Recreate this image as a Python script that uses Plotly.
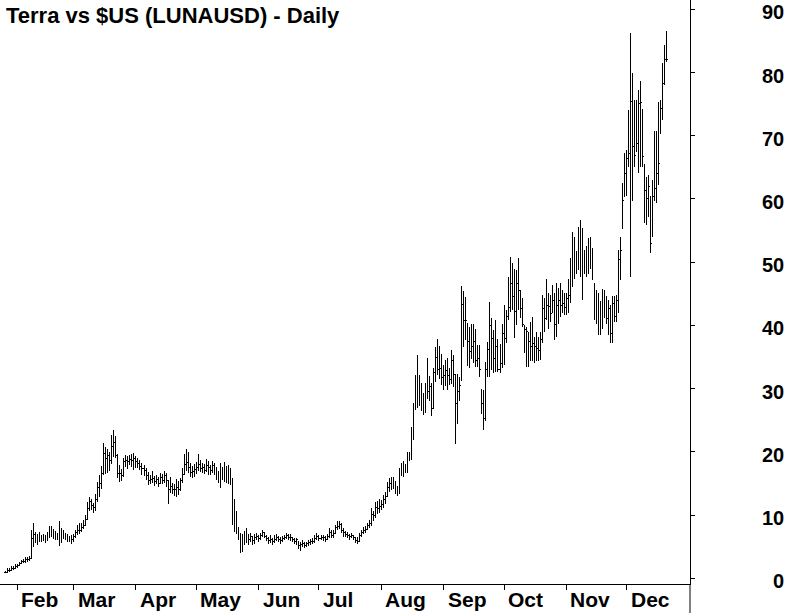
import pandas as pd
import plotly.graph_objects as go

# ---------------- data ----------------
start_date = "2021-01-26"
first_open = 0.85

jan_close = [0.9, 1.3, 1.2, 1.5, 1.6, 1.8]
jan_high = [1.2, 1.6, 1.6, 1.9, 1.9, 2.2]
jan_low = [0.8, 0.9, 1.0, 1.1, 1.3, 1.4]

feb_close = [2.0, 2.4, 2.6, 2.7, 2.9, 3.0, 3.2, 6.3, 7.0, 6.8, 6.0, 6.5, 6.4, 6.6,
             6.1, 6.8, 7.5, 7.2, 6.6, 6.9, 6.8, 7.4, 6.5, 6.9, 6.5, 6.3, 6.4, 6.1]
feb_high = [2.3, 2.6, 2.9, 3.1, 3.3, 3.4, 3.5, 7.6, 8.8, 7.4, 7.0, 7.3, 6.9, 7.0,
            6.8, 7.4, 8.2, 8.2, 7.8, 7.5, 7.2, 9.0, 7.9, 7.6, 7.1, 7.0, 6.7, 6.8]
feb_low = [1.6, 1.9, 2.2, 2.4, 2.5, 2.6, 2.8, 3.0, 5.0, 5.6, 5.3, 5.7, 5.8, 5.9,
           5.6, 5.9, 6.4, 6.5, 6.2, 6.0, 6.1, 5.1, 5.6, 6.2, 6.0, 5.8, 5.7, 5.5]

mar_close = [6.6, 7.2, 7.5, 7.6, 8.0, 8.4, 9.3, 11.1, 12.2, 11.5, 11.2, 12.4, 14.3, 15.0,
             16.5, 19.7, 18.9, 19.4, 18.6, 20.8, 21.5, 19.4, 16.5, 16.6, 16.2, 18.4, 18.7, 18.4,
             18.8, 18.6, 18.9]
mar_high = [7.0, 7.6, 8.5, 8.7, 8.8, 9.2, 10.0, 12.0, 12.8, 12.6, 11.9, 13.3, 15.2, 16.4,
            17.8, 21.4, 20.8, 20.4, 20.0, 22.6, 23.5, 22.5, 19.6, 18.0, 17.3, 19.1, 19.5, 19.3,
            19.5, 19.6, 19.8]
mar_low = [5.8, 6.3, 6.9, 7.0, 7.3, 7.8, 8.2, 9.2, 10.6, 10.8, 10.3, 10.7, 12.0, 12.9,
           14.2, 16.3, 16.5, 16.7, 17.0, 18.1, 19.2, 19.0, 15.8, 15.2, 15.4, 16.0, 17.6, 17.3,
           17.9, 17.6, 17.2]

apr_close = [18.5, 18.2, 17.7, 17.3, 17.0, 16.2, 15.4, 15.7, 15.8, 15.3, 15.6, 15.0, 16.0, 15.4,
             16.2, 15.5, 14.1, 14.5, 14.1, 14.0, 14.3, 14.0, 15.4, 15.7, 18.0, 18.3, 17.5, 16.8,
             16.9, 17.2]
apr_high = [19.4, 19.1, 18.7, 18.2, 17.9, 17.4, 16.8, 16.4, 16.9, 16.2, 16.4, 16.0, 16.7, 16.5,
            17.0, 16.6, 15.6, 16.1, 15.1, 14.9, 15.7, 15.4, 15.9, 17.5, 19.6, 20.4, 20.0, 18.3,
            17.8, 18.1]
apr_low = [17.5, 17.4, 17.1, 16.3, 16.2, 15.5, 14.8, 14.9, 15.0, 14.6, 14.9, 14.5, 14.9, 14.9,
           15.1, 14.5, 11.8, 13.5, 13.3, 13.0, 12.9, 13.2, 13.8, 15.0, 16.4, 17.0, 16.6, 16.0,
           15.8, 16.1]

may_close = [17.6, 18.0, 17.3, 17.6, 17.1, 17.9, 17.5, 17.0, 17.8, 17.2, 16.5, 16.2, 17.1, 16.6,
             17.0, 16.4, 16.8, 15.6, 9.4, 10.3, 8.0, 7.0, 4.6, 6.0, 6.5, 6.6, 6.2, 6.6,
             6.0, 6.4, 6.6]
may_high = [18.4, 19.6, 18.7, 18.3, 18.1, 18.8, 18.6, 18.0, 18.6, 18.3, 17.6, 17.0, 18.2, 17.6,
            18.4, 17.8, 18.0, 17.5, 15.8, 12.5, 10.6, 8.0, 7.1, 7.0, 7.5, 8.0, 7.0, 7.2,
            6.7, 7.0, 7.2]
may_low = [16.5, 17.0, 16.8, 16.6, 16.5, 16.8, 16.4, 16.3, 16.6, 16.4, 15.6, 15.0, 14.3, 15.6,
           15.2, 15.0, 14.9, 14.8, 8.5, 7.3, 7.0, 6.1, 4.0, 4.1, 5.2, 5.6, 5.3, 5.8,
           5.3, 5.5, 6.0]

jun_close = [6.3, 6.7, 7.3, 6.6, 6.3, 6.0, 6.2, 5.9, 6.2, 6.5, 6.1, 6.0, 6.3, 6.4,
             6.7, 6.4, 6.5, 6.1, 5.9, 6.1, 5.2, 5.3, 5.5, 5.2, 5.5, 5.6, 5.8, 5.9, 6.3, 6.6]
jun_high = [6.9, 7.2, 7.7, 7.4, 6.8, 6.5, 6.9, 6.3, 6.8, 7.0, 6.7, 6.5, 6.7, 6.9,
            7.2, 7.0, 7.0, 6.6, 6.3, 6.4, 5.9, 5.8, 6.0, 5.8, 5.8, 6.0, 6.2, 6.3, 6.9, 7.1]
jun_low = [5.8, 6.0, 6.5, 6.3, 5.9, 5.4, 5.6, 5.2, 5.6, 5.9, 5.7, 5.4, 5.7, 6.0,
           6.2, 6.0, 5.9, 5.7, 5.5, 5.3, 4.6, 4.3, 4.9, 4.8, 5.0, 5.1, 5.3, 5.5, 5.6, 6.0]

jul_close = [6.3, 6.5, 6.4, 6.2, 6.6, 7.2, 6.8, 7.1, 8.1, 8.2, 8.5, 7.6, 7.3, 6.9,
             6.8, 6.6, 6.7, 6.5, 6.0, 5.9, 6.7, 7.2, 7.5, 7.8, 8.3, 8.6, 10.1, 9.9,
             11.2, 11.0, 11.4]
jul_high = [6.9, 6.9, 6.8, 6.7, 7.0, 7.9, 7.6, 7.6, 8.5, 9.0, 9.1, 8.7, 8.0, 7.5,
            7.3, 7.0, 7.1, 6.9, 6.6, 6.5, 7.1, 7.7, 8.1, 8.3, 8.8, 9.3, 11.1, 10.6,
            12.1, 12.3, 12.6]
jul_low = [5.9, 6.0, 5.9, 5.7, 6.0, 6.4, 6.3, 6.4, 7.0, 7.6, 7.8, 7.2, 6.6, 6.5,
           6.3, 6.1, 6.3, 6.0, 5.6, 5.4, 5.8, 6.5, 7.0, 7.2, 7.6, 7.9, 8.3, 9.0,
           9.6, 10.1, 10.4]

aug_close = [11.6, 12.4, 13.0, 14.4, 15.0, 14.7, 15.2, 13.8, 13.5, 16.8, 17.3, 16.9, 17.6, 18.2,
             19.3, 21.9, 25.3, 30.7, 29.4, 30.7, 27.7, 28.0, 30.0, 29.5, 30.3, 26.9, 32.6, 35.0,
             33.0, 33.2, 31.7]
aug_high = [12.4, 13.1, 13.6, 15.2, 15.8, 16.0, 16.1, 15.4, 14.6, 17.5, 18.2, 18.5, 18.1, 19.9,
            20.0, 24.0, 27.7, 32.2, 35.4, 32.2, 30.9, 29.3, 30.9, 34.9, 32.0, 30.9, 33.3, 36.6,
            37.9, 36.8, 35.5]
aug_low = [10.8, 11.2, 11.8, 12.8, 13.6, 13.9, 14.2, 13.3, 13.0, 13.4, 16.2, 16.0, 16.6, 16.6,
           18.6, 18.7, 21.9, 26.7, 26.9, 27.2, 26.4, 25.9, 26.2, 28.3, 28.0, 25.7, 26.8, 31.1,
           32.1, 31.6, 30.6]

sep_close = [32.0, 32.8, 32.0, 31.4, 34.5, 32.3, 27.7, 29.5, 30.5, 43.3, 40.8, 40.8, 37.4, 35.9,
             36.7, 37.5, 34.5, 34.7, 33.0, 27.7, 25.2, 33.0, 36.2, 40.0, 37.9, 34.7, 36.6, 33.0,
             34.0, 38.8]
sep_high = [33.8, 34.6, 34.8, 33.2, 36.1, 35.3, 32.3, 32.3, 31.8, 46.2, 45.5, 44.5, 40.3, 39.7,
            40.3, 40.3, 39.4, 36.9, 36.9, 29.8, 29.8, 34.2, 37.4, 43.7, 41.1, 39.2, 40.9, 37.9,
            37.1, 40.2]
sep_low = [29.8, 30.4, 29.8, 30.5, 30.8, 30.3, 21.2, 24.4, 28.0, 31.3, 36.6, 37.7, 33.6, 33.2,
           34.7, 34.1, 33.5, 33.5, 31.9, 26.0, 23.5, 24.9, 31.9, 31.9, 33.0, 32.4, 32.6, 32.6,
           32.5, 33.2]

oct_close = [38.0, 41.4, 42.9, 46.7, 44.5, 42.2, 46.7, 46.7, 42.7, 42.4, 39.3, 39.0, 37.4, 36.6,
             37.2, 36.6, 36.4, 36.1, 37.7, 42.7, 41.1, 43.2, 43.0, 41.7, 44.0, 40.1, 43.1, 44.0,
             43.2, 43.5, 42.9]
oct_high = [43.2, 42.4, 47.7, 50.8, 49.8, 49.0, 48.8, 50.6, 45.6, 44.3, 40.1, 39.8, 39.0, 40.6,
            41.4, 38.2, 39.0, 38.2, 39.0, 44.8, 44.3, 47.4, 45.1, 44.8, 46.4, 45.1, 46.7, 45.9,
            46.7, 45.6, 45.1]
oct_low = [33.7, 37.2, 40.9, 42.1, 42.4, 38.0, 40.1, 42.4, 41.1, 39.8, 35.6, 33.5, 33.5, 34.3,
           34.3, 34.0, 34.3, 34.3, 34.5, 37.2, 39.0, 40.9, 39.5, 40.6, 41.9, 37.7, 38.2, 40.3,
           41.4, 41.9, 41.7]

nov_close = [44.2, 44.8, 48.1, 52.0, 50.1, 51.4, 51.1, 54.2, 50.4, 48.8, 50.6, 49.8, 51.9, 48.0,
             43.2, 43.2, 40.4, 42.5, 45.4, 44.6, 41.1, 42.7, 38.8, 43.5, 41.4, 43.9, 50.4, 51.9,
             59.8, 64.0]
nov_high = [45.1, 47.4, 50.6, 54.8, 54.0, 51.7, 55.5, 56.7, 55.4, 51.9, 52.5, 53.8, 54.0, 52.2,
            46.6, 45.6, 45.1, 43.8, 45.7, 45.6, 44.6, 44.0, 43.2, 44.6, 44.6, 44.8, 51.9, 54.0,
            62.5, 67.2]
nov_low = [41.7, 41.9, 43.5, 46.1, 47.4, 48.2, 48.8, 47.7, 44.0, 48.2, 47.7, 48.2, 49.0, 47.2,
           40.9, 40.2, 38.5, 38.5, 39.5, 41.2, 40.2, 38.5, 37.2, 37.2, 40.6, 40.6, 41.9, 47.2,
           55.4, 60.4]

dec_close = [66.4, 67.2, 75.4, 68.3, 66.9, 68.8, 75.1, 75.2, 66.7, 61.4, 60.1, 62.0, 52.9, 60.4,
             61.7, 64.0, 65.6, 74.3, 78.3, 82.1, 82.0]
dec_high = [67.7, 74.1, 86.2, 79.9, 75.7, 75.7, 77.3, 78.6, 74.1, 65.4, 63.5, 63.8, 60.4, 63.0,
            70.7, 70.7, 75.4, 75.7, 81.5, 84.4, 86.5]
dec_low = [60.4, 65.1, 47.7, 59.6, 65.1, 67.5, 64.1, 65.1, 65.1, 56.2, 55.9, 57.2, 51.4, 54.1,
           59.6, 59.3, 62.2, 70.4, 72.5, 78.0, 81.7]

month_ticks = ["2021-02-01", "2021-03-01", "2021-04-01", "2021-05-01", "2021-06-01",
               "2021-07-01", "2021-08-01", "2021-09-01", "2021-10-01", "2021-11-01",
               "2021-12-01"]
month_labels = ["Feb", "Mar", "Apr", "May", "Jun", "Jul", "Aug", "Sep", "Oct", "Nov", "Dec"]
y_ticks = [0, 10, 20, 30, 40, 50, 60, 70, 80, 90]
title_text = "Terra vs $US (LUNAUSD) - Daily"

# ---------------- assemble ----------------
closes = (jan_close + feb_close + mar_close + apr_close + may_close + jun_close +
          jul_close + aug_close + sep_close + oct_close + nov_close + dec_close)
highs = (jan_high + feb_high + mar_high + apr_high + may_high + jun_high +
         jul_high + aug_high + sep_high + oct_high + nov_high + dec_high)
lows = (jan_low + feb_low + mar_low + apr_low + may_low + jun_low +
        jul_low + aug_low + sep_low + oct_low + nov_low + dec_low)
dates = pd.date_range(start_date, periods=len(closes), freq="D")
prev = [first_open] + closes[:-1]
opens = [min(max(p, lo), hi) for p, lo, hi in zip(prev, lows, highs)]

FONT = "Liberation Sans, Arial, sans-serif"

fig = go.Figure()
fig.add_trace(go.Ohlc(
    x=dates, open=opens, high=highs, low=lows, close=closes,
    increasing=dict(line=dict(color="black", width=1)),
    decreasing=dict(line=dict(color="black", width=1)),
    tickwidth=0.45, hoverinfo="skip", showlegend=False,
))

annotations = [dict(
    text="<b>" + title_text + "</b>", xref="paper", yref="paper", x=0, y=1,
    xanchor="left", yanchor="top", xshift=4, yshift=-1, showarrow=False,
    font=dict(family=FONT, size=22, color="black"),
)]
for d, lab in zip(month_ticks, month_labels):
    annotations.append(dict(
        text="<b>" + lab + "</b>", x=d, xref="x", y=0, yref="paper",
        xanchor="left", yanchor="middle", xshift=2, yshift=-15, showarrow=False,
        font=dict(family=FONT, size=21, color="black"),
    ))
for v in y_ticks:
    annotations.append(dict(
        text="<b>" + str(v) + "</b>", x=1, xref="paper", y=v, yref="y",
        xanchor="right", yanchor="middle", xshift=96, yshift=-3, showarrow=False,
        font=dict(family=FONT, size=20, color="black"),
    ))

fig.update_layout(
    width=790, height=613,
    margin=dict(l=0, r=100, t=0, b=29),
    paper_bgcolor="white", plot_bgcolor="white",
    showlegend=False,
    annotations=annotations,
    xaxis=dict(
        type="date", range=["2021-01-23 09:36", "2022-01-01 11:17"],
        rangeslider=dict(visible=False),
        tickvals=month_ticks, showticklabels=False,
        ticks="outside", ticklen=5, tickcolor="black", tickwidth=1,
        showline=True, linecolor="black", linewidth=1,
        showgrid=False, zeroline=False, fixedrange=True,
    ),
    yaxis=dict(
        side="right", range=[-0.90, 91.47],
        tickvals=y_ticks, showticklabels=False,
        ticks="outside", ticklen=4, tickcolor="black", tickwidth=1,
        showline=True, linecolor="black", linewidth=1,
        showgrid=False, zeroline=False, fixedrange=True,
    ),
    shapes=[dict(type="line", xref="paper", yref="paper", x0=1, x1=1,
                 y0=0, y1=-29 / 584, line=dict(color="black", width=1))],
)

post_js = (
    "document.body.style.margin='0';"
    "document.body.style.padding='0';"
    "document.querySelectorAll('.ohlc path, .ohlclayer path').forEach("
    "function(p){p.style.shapeRendering='crispEdges';});"
)
fig.write_html("out.html", post_script=post_js,
               config={"displayModeBar": False, "staticPlot": True})
